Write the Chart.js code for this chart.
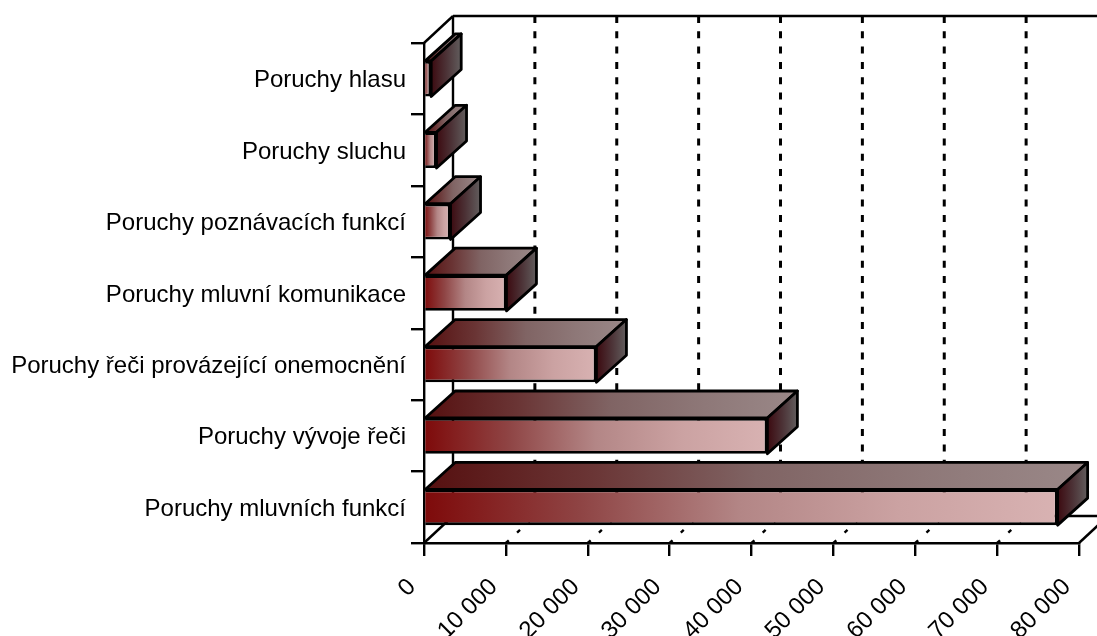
<!DOCTYPE html>
<html>
<head>
<meta charset="utf-8">
<script src="https://cdn.jsdelivr.net/npm/chart.js@4"></script>
<style>
  html, body { margin: 0; padding: 0; background: #fff; overflow: hidden; }
  canvas { display: block; }
</style>
</head>
<body>
<canvas id="chart" width="1097" height="636"></canvas>
<script>
const categories = [
  'Poruchy hlasu',
  'Poruchy sluchu',
  'Poruchy poznávacích funkcí',
  'Poruchy mluvní komunikace',
  'Poruchy řeči provázející onemocnění',
  'Poruchy vývoje řeči',
  'Poruchy mluvních funkcí'
];
const values = [880, 1530, 3240, 10070, 21060, 41940, 77390];
const xTickLabels = ['0', '10 000', '20 000', '30 000', '40 000', '50 000', '60 000', '70 000', '80 000'];

// gradient colours of the three visible bar faces, left to right
const frontColors = ['#7e0a0a', '#8f4545', '#b38686', '#cba2a2', '#d8b2b2'];
const topColors = ['#561010', '#6a3535', '#806464', '#8e7878', '#9a8888'];
const sideColors = ['#3c0a10', '#4c3236', '#625e5e'];

// fake 3D depth, same offset for the walls and the bars
const DEPTH_X = 29;
const DEPTH_Y = 27;
const LINE = 2.4;
const BAR_LINE = 2.8;

function barGradient(ctx, x0, x1, colors) {
  const g = ctx.createLinearGradient(x0, 0, x1, 0);
  colors.forEach((col, i) => g.addColorStop(i / (colors.length - 1), col));
  return g;
}

function strokeLine(ctx, x0, y0, x1, y1) {
  ctx.beginPath();
  ctx.moveTo(x0, y0);
  ctx.lineTo(x1, y1);
  ctx.stroke();
}

function fillFace(ctx, pts, fill) {
  ctx.beginPath();
  pts.forEach((p, i) => (i ? ctx.lineTo(p[0], p[1]) : ctx.moveTo(p[0], p[1])));
  ctx.closePath();
  ctx.fillStyle = fill;
  ctx.fill();
  ctx.stroke();
}

const depthPlugin = {
  id: 'depth',
  // back walls and dashed grid, behind the bars
  beforeDatasetsDraw(chart) {
    const { ctx, chartArea: a, scales: { x } } = chart;
    ctx.save();
    ctx.strokeStyle = '#000';
    ctx.lineWidth = LINE;
    const backLeft = a.left + DEPTH_X;
    const backTop = a.top - DEPTH_Y;
    const backBottom = a.bottom - DEPTH_Y;
    strokeLine(ctx, backLeft, backTop, a.right + DEPTH_X, backTop);
    strokeLine(ctx, backLeft, backTop, backLeft, backBottom);
    strokeLine(ctx, backLeft, backBottom, a.right + DEPTH_X, backBottom);
    strokeLine(ctx, a.left, a.top, backLeft, backTop);
    strokeLine(ctx, a.left, a.bottom, backLeft, backBottom);
    strokeLine(ctx, a.right, a.bottom, a.right + DEPTH_X, backBottom);

    x.ticks.forEach((t, i) => {
      if (i === 0 || i === x.ticks.length - 1) return;
      const px = x.getPixelForValue(t.value);
      ctx.lineWidth = 3;
      ctx.setLineDash([7, 8.3]);
      strokeLine(ctx, px + DEPTH_X, backTop, px + DEPTH_X, backBottom);
      ctx.lineWidth = LINE;
      ctx.setLineDash([4, 11.3]);
      strokeLine(ctx, px, a.bottom, px + DEPTH_X, backBottom);
      ctx.setLineDash([]);
    });
    ctx.restore();
  },
  // top and side faces of each bar
  afterDatasetsDraw(chart) {
    const { ctx } = chart;
    const dx = DEPTH_X + 1;
    ctx.save();
    ctx.strokeStyle = '#000';
    ctx.lineWidth = BAR_LINE;
    ctx.lineJoin = 'round';
    chart.getDatasetMeta(0).data.forEach((bar) => {
      const left = bar.base;
      const right = bar.x;
      const top = bar.y - bar.height / 2;
      const bottom = bar.y + bar.height / 2;
      fillFace(ctx, [[left, top], [right, top], [right + dx, top - DEPTH_Y], [left + dx, top - DEPTH_Y]],
        barGradient(ctx, left, right + dx, topColors));
      fillFace(ctx, [[right, top], [right + dx, top - DEPTH_Y], [right + dx, bottom - DEPTH_Y], [right, bottom]],
        barGradient(ctx, right, right + dx, sideColors));
    });
    ctx.restore();
  }
};

const labelFont = { family: '"Liberation Sans", Arial, sans-serif', size: 24 };

new Chart(document.getElementById('chart'), {
  type: 'bar',
  plugins: [depthPlugin],
  data: {
    labels: categories,
    datasets: [{
      data: values,
      barPercentage: 0.5,
      categoryPercentage: 1,
      borderColor: '#000',
      borderWidth: BAR_LINE,
      backgroundColor(c) {
        const { ctx, scales: { x } } = c.chart;
        // scriptable option also runs before the layout is done
        const x0 = x ? x.getPixelForValue(0) : NaN;
        const x1 = x ? x.getPixelForValue(c.raw) : NaN;
        if (!isFinite(x0) || !isFinite(x1)) return frontColors[4];
        return barGradient(ctx, x0, x1, frontColors);
      }
    }]
  },
  options: {
    indexAxis: 'y',
    responsive: false,
    animation: false,
    layout: { padding: { top: 43, right: 18 } },
    plugins: { legend: { display: false }, tooltip: { enabled: false } },
    scales: {
      x: {
        min: 0,
        max: 80000,
        afterFit(scale) {
          scale.height = 93;
          scale.paddingLeft = 0;
          scale.paddingRight = 0;
        },
        border: { display: true, color: '#000', width: LINE },
        grid: { drawOnChartArea: false, drawTicks: true, color: '#000', lineWidth: LINE, tickLength: 13 },
        ticks: {
          stepSize: 10000,
          minRotation: 45,
          maxRotation: 45,
          padding: 17,
          labelOffset: -12,
          color: '#000',
          font: labelFont,
          callback: (v, i) => xTickLabels[i]
        }
      },
      y: {
        afterFit(scale) { scale.width = 424; },
        border: { display: true, color: '#000', width: LINE },
        grid: { offset: true, drawOnChartArea: false, drawTicks: true, color: '#000', lineWidth: LINE, tickLength: 13 },
        ticks: { padding: 5, labelOffset: 2, color: '#000', font: labelFont, autoSkip: false }
      }
    }
  }
});
</script>
</body>
</html>
